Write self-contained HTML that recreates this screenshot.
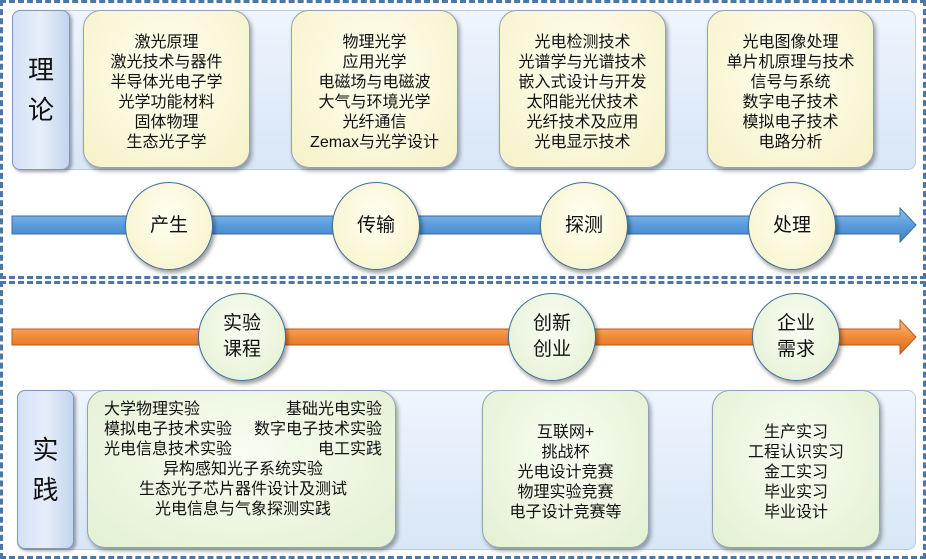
<!DOCTYPE html>
<html><head><meta charset="utf-8"><style>
body{margin:0;width:926px;height:559px;background:#fff;position:relative;overflow:hidden;font-family:"Liberation Sans","Noto Sans CJK SC",sans-serif;color:#111}
.a{position:absolute;box-sizing:border-box}
.dash{border:3px dashed #4a76a8}
.band{background:linear-gradient(#eef5fd,#d8e6f6);border:1px solid #b8cde4;border-radius:8px}
.tab{background:linear-gradient(90deg,#d4e1f5,#e6eefa 50%,#c4d4ee);border:1px solid #7d97bd;border-radius:8px;box-shadow:2px 2px 3px rgba(0,0,0,.35);font-size:26px;line-height:40px;text-align:center;display:flex;align-items:center;justify-content:center}
.card{border:1px solid #8fa3b8;border-radius:18px;box-shadow:2px 3px 4px rgba(0,0,0,.35);font-size:16px;line-height:20px;text-align:center;padding-top:22px}
.y{background:radial-gradient(ellipse at 50% 40%,#fffff0,#f6f1c8)}
.g{background:radial-gradient(ellipse at 50% 40%,#f8fdf2,#e2f0d2)}
.c{border-radius:50%;border:1px solid #3e6c98;box-shadow:2px 3px 4px rgba(0,0,0,.4);display:flex;align-items:center;justify-content:center;text-align:center;font-size:19px;line-height:26px}
</style></head><body>
<div class="a dash" style="left:0;top:0;width:926px;height:279px"></div>
<div class="a dash" style="left:0;top:281px;width:926px;height:278px"></div>

<div class="a band" style="left:12px;top:10px;width:904px;height:160px"></div>
<div class="a tab" style="left:12px;top:10px;width:58px;height:160px">理<br>论</div>
<div class="a card y" style="left:83px;top:10px;width:167px;height:158px">激光原理<br>激光技术与器件<br>半导体光电子学<br>光学功能材料<br>固体物理<br>生态光子学</div>
<div class="a card y" style="left:291px;top:10px;width:167px;height:158px">物理光学<br>应用光学<br>电磁场与电磁波<br>大气与环境光学<br>光纤通信<br>Zemax与光学设计</div>
<div class="a card y" style="left:499px;top:10px;width:167px;height:158px">光电检测技术<br>光谱学与光谱技术<br>嵌入式设计与开发<br>太阳能光伏技术<br>光纤技术及应用<br>光电显示技术</div>
<div class="a card y" style="left:707px;top:10px;width:167px;height:158px">光电图像处理<br>单片机原理与技术<br>信号与系统<br>数字电子技术<br>模拟电子技术<br>电路分析</div>

<svg class="a" style="left:0;top:0" width="926" height="559">
<defs>
<linearGradient id="bl" x1="0" y1="0" x2="0" y2="1"><stop offset="0" stop-color="#8fc0ee"/><stop offset=".5" stop-color="#5a9ddc"/><stop offset="1" stop-color="#3f7fc0"/></linearGradient>
<linearGradient id="or" x1="0" y1="0" x2="0" y2="1"><stop offset="0" stop-color="#fbb878"/><stop offset=".5" stop-color="#f08a3a"/><stop offset="1" stop-color="#d86a20"/></linearGradient>
</defs>
<polygon points="12,216 900,216 900,208 916,225 900,242 900,234 12,234" fill="url(#bl)" stroke="#3a6e9e" stroke-width="1"/>
<polygon points="12,329 900,329 900,320 916,337 900,354 900,345 12,345" fill="url(#or)" stroke="#b85a18" stroke-width="1"/>
</svg>

<div class="a c y" style="left:125px;top:182px;width:88px;height:88px">产生</div>
<div class="a c y" style="left:332px;top:182px;width:88px;height:88px">传输</div>
<div class="a c y" style="left:540px;top:182px;width:88px;height:88px">探测</div>
<div class="a c y" style="left:748px;top:182px;width:88px;height:88px">处理</div>

<div class="a c g" style="left:198px;top:293px;width:88px;height:88px">实验<br>课程</div>
<div class="a c g" style="left:508px;top:293px;width:88px;height:88px">创新<br>创业</div>
<div class="a c g" style="left:752px;top:293px;width:88px;height:88px">企业<br>需求</div>

<div class="a band" style="left:17px;top:390px;width:899px;height:160px"></div>
<div class="a tab" style="left:17px;top:390px;width:57px;height:159px">实<br>践</div>
<div class="a card g" style="left:87px;top:390px;width:309px;height:158px;padding:9px 13px 0 16px;text-align:left">
<div style="display:flex;justify-content:space-between"><span>大学物理实验</span><span>基础光电实验</span></div>
<div style="display:flex;justify-content:space-between"><span>模拟电子技术实验</span><span>数字电子技术实验</span></div>
<div style="display:flex;justify-content:space-between"><span>光电信息技术实验</span><span>电工实践</span></div>
<div style="text-align:center">异构感知光子系统实验<br>生态光子芯片器件设计及测试<br>光电信息与气象探测实践</div>
</div>
<div class="a card g" style="left:482px;top:390px;width:167px;height:158px;padding-top:32px">互联网+<br>挑战杯<br>光电设计竞赛<br>物理实验竞赛<br>电子设计竞赛等</div>
<div class="a card g" style="left:712px;top:390px;width:168px;height:158px;padding-top:32px">生产实习<br>工程认识实习<br>金工实习<br>毕业实习<br>毕业设计</div>
</body></html>
